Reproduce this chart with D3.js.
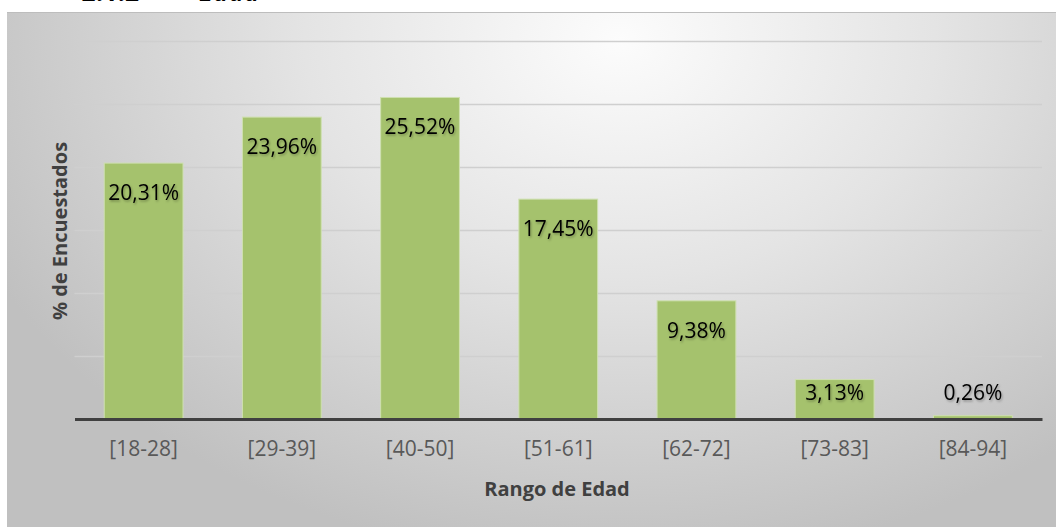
<!DOCTYPE html>
<html>
<head>
<meta charset="utf-8">
<script src="https://cdn.jsdelivr.net/npm/d3@7"></script>
<style>
  body { margin: 0; background: #ffffff; }
  svg { display: block; font-family: "Open Sans", "Noto Sans", sans-serif; }
</style>
</head>
<body>
<div id="chart-div"></div>
<script>
// chart data
const categories = ['[18-28]', '[29-39]', '[40-50]', '[51-61]', '[62-72]', '[73-83]', '[84-94]'];
const values = [20.31, 23.96, 25.52, 17.45, 9.38, 3.13, 0.26];
const gridTicks = [0, 5, 10, 15, 20, 25, 30];
const yAxisLabel = '% de Encuestados';
const xAxisLabel = 'Rango de Edad';
const heading = '2.1.2';
const headingWord = 'Edad';

const width = 1056;
const height = 527;

const svg = d3.select('#chart-div').append('svg')
    .attr('width', width)
    .attr('height', height)
    .attr('viewBox', [0, 0, width, height]);

const defs = svg.append('defs');
const grad = defs.append('radialGradient')
    .attr('id', 'bg')
    .attr('gradientUnits', 'userSpaceOnUse')
    .attr('cx', 620).attr('cy', 40)
    .attr('r', 700)
    .attr('gradientTransform', 'translate(620,40) scale(1,0.75) translate(-620,-40)');
grad.append('stop').attr('offset', '0%').attr('stop-color', '#fcfcfc');
grad.append('stop').attr('offset', '45%').attr('stop-color', '#e4e4e4');
grad.append('stop').attr('offset', '100%').attr('stop-color', '#c0c0c0');

const shadow = defs.append('filter').attr('id', 'shadow')
    .attr('x', '-10%').attr('y', '-20%').attr('width', '130%').attr('height', '150%');
shadow.append('feDropShadow')
    .attr('dx', 1).attr('dy', 1.5).attr('stdDeviation', 1)
    .attr('flood-color', '#000').attr('flood-opacity', 0.3);

// heading, mostly cut off above the picture
svg.append('text')
    .attr('x', 83).attr('y', 1)
    .attr('font-size', 26).attr('font-weight', 'bold').attr('font-style', 'italic')
    .attr('fill', '#000')
    .text(heading);
svg.append('text')
    .attr('x', 199).attr('y', 1)
    .attr('font-size', 26).attr('font-weight', 'bold').attr('font-style', 'italic')
    .attr('fill', '#000')
    .text(headingWord);

// chart area background
svg.append('rect')
    .attr('x', 7).attr('y', 12)
    .attr('width', width - 7).attr('height', height - 12)
    .attr('fill', 'url(#bg)');
svg.append('line')
    .attr('x1', 7).attr('x2', width)
    .attr('y1', 12.5).attr('y2', 12.5)
    .attr('stroke', '#bdbdbd').attr('stroke-width', 1);

const margin = { top: 41, left: 74.5, right: 14, bottom: 107 };
const innerWidth = width - margin.left - margin.right;
const innerHeight = height - margin.top - margin.bottom - 1;

const xScale = d3.scaleBand()
    .domain(categories)
    .range([0, innerWidth])
    .paddingInner(0.43)
    .paddingOuter(0.215);

const yScale = d3.scaleLinear()
    .domain([0, 30])
    .range([innerHeight, 0]);

const g = svg.append('g')
    .attr('transform', `translate(${margin.left},${margin.top})`);

// gridlines
const yAxis = d3.axisLeft(yScale)
    .tickValues(gridTicks.slice(1))
    .tickSize(-innerWidth)
    .tickFormat('');
const yAxisG = g.append('g').call(yAxis);
yAxisG.select('.domain').remove();
yAxisG.selectAll('.tick line')
    .attr('stroke', '#cfcfcf')
    .attr('stroke-width', 1.6);

// bars
g.selectAll('rect.bar').data(values)
  .enter().append('rect')
    .attr('class', 'bar')
    .attr('x', (d, i) => xScale(categories[i]))
    .attr('y', d => yScale(d))
    .attr('width', xScale.bandwidth())
    .attr('height', d => yScale(0) - yScale(d))
    .attr('fill', '#a5c26d')
    .attr('stroke', '#cfe0b0')
    .attr('stroke-width', 1);

// baseline
const xAxis = d3.axisBottom(xScale).tickSize(0).tickPadding(22);
const xAxisG = g.append('g')
    .attr('transform', `translate(0,${yScale(0)})`)
    .call(xAxis);
xAxisG.select('.domain')
    .attr('stroke', '#404040')
    .attr('stroke-width', 3);
xAxisG.selectAll('.tick text')
    .attr('font-family', '"Open Sans", sans-serif')
    .attr('font-size', 21)
    .attr('fill', '#595959');

// value labels
g.selectAll('text.value').data(values)
  .enter().append('text')
    .attr('class', 'value')
    .attr('x', (d, i) => xScale(categories[i]) + xScale.bandwidth() / 2)
    .attr('y', d => Math.min(yScale(d) + 37, yScale(0) - 19))
    .attr('text-anchor', 'middle')
    .attr('font-size', 21)
    .attr('fill', '#000')
    .attr('filter', 'url(#shadow)')
    .text(d => d.toFixed(2).replace('.', ',') + '%');

// axis titles
svg.append('text')
    .attr('transform', `translate(67,231) rotate(-90)`)
    .attr('text-anchor', 'middle')
    .attr('font-size', 20)
    .attr('font-weight', 'bold')
    .attr('fill', '#404040')
    .text(yAxisLabel);

svg.append('text')
    .attr('x', 557).attr('y', 496)
    .attr('text-anchor', 'middle')
    .attr('font-size', 20)
    .attr('font-weight', 'bold')
    .attr('fill', '#404040')
    .text(xAxisLabel);
</script>
</body>
</html>
